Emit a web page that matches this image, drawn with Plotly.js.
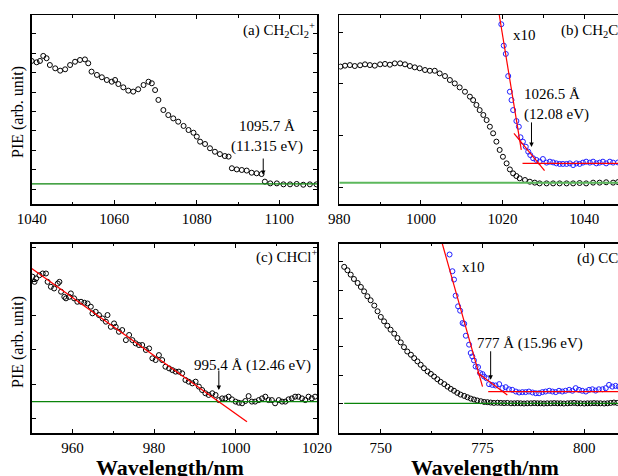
<!DOCTYPE html>
<html>
<head>
<meta charset="utf-8">
<script src="https://cdn.plot.ly/plotly-3.0.1.min.js"></script>
<style>html,body{margin:0;padding:0;background:#fff;}#chart{width:618px;height:476px;}</style>
</head>
<body>
<div id="chart"></div>
<script>
// ---------- Panel (a) CH2Cl2+ ----------
const aWave = [1040.0,1041.2,1042.0,1042.8,1043.6,1044.4,1045.7,1046.9,1048.1,1049.3,1050.5,1051.7,1052.9,1053.7,1054.5,1055.8,1057.0,1058.2,1059.4,1060.2,1061.0,1062.2,1063.4,1064.6,1065.8,1067.1,1068.3,1069.1,1069.9,1070.7,1071.9,1073.1,1074.3,1075.5,1076.8,1078.0,1079.2,1080.0,1080.8,1082.0,1083.2,1084.4,1085.6,1086.8,1087.7,1088.5,1089.7,1090.9,1092.1,1093.3,1094.5,1095.7,1096.5,1097.8,1099.4,1101.0,1102.6,1104.2,1105.8,1107.4,1109.0];
const aPIE = [6.60,6.53,6.60,6.86,6.74,6.39,6.22,6.10,6.17,6.39,6.56,6.65,6.68,6.48,6.05,5.88,5.76,5.62,5.53,5.62,5.41,5.24,5.07,5.02,5.14,5.36,5.53,5.45,5.10,4.59,4.07,3.81,3.64,3.47,3.25,3.04,2.90,2.70,2.44,2.32,2.10,1.92,1.80,1.70,1.67,1.07,1.01,0.98,0.95,0.84,0.81,0.77,0.38,0.29,0.29,0.24,0.24,0.26,0.22,0.24,0.24];
const aBaseX = [1040, 1109.2];
const aBaseY = [0.26, 0.26];

// ---------- Panel (b) CH2Cl+ ----------
const bWave = [980.3,981.4,982.6,983.8,985.1,986.3,987.5,988.7,990.0,991.2,992.4,993.6,994.9,996.1,997.3,998.5,999.7,1001.0,1002.2,1003.4,1004.6,1005.9,1007.1,1008.3,1009.5,1010.8,1012.0,1012.8,1013.6,1014.4,1015.3,1016.1,1016.9,1017.7,1018.5,1019.3,1020.1,1021.0,1021.8,1022.6,1023.4,1024.2,1025.5,1026.7,1027.9,1029.1,1030.8,1032.4,1034.0,1035.7,1037.3,1038.9,1040.5,1042.2,1043.8,1045.4,1047.1,1048.3];
const bPIE = [7.27,7.32,7.35,7.30,7.34,7.39,7.35,7.32,7.39,7.41,7.37,7.44,7.44,7.39,7.30,7.23,7.18,7.09,7.05,7.05,6.91,6.77,6.56,6.38,6.17,5.94,5.68,5.50,5.24,4.97,4.71,4.44,4.09,3.74,3.30,2.86,2.50,2.15,1.83,1.62,1.48,1.36,1.27,1.18,1.13,1.09,1.09,1.09,1.09,1.09,1.09,1.11,1.09,1.13,1.13,1.15,1.13,1.16];
const bWaveX10 = [1019.7,1020.3,1020.8,1021.4,1021.8,1022.2,1022.6,1023.4,1024.0,1024.4,1025.0,1025.7,1026.3,1026.8,1027.5,1028.3,1029.1,1029.9,1030.8,1031.6,1032.4,1033.2,1034.0,1034.8,1035.7,1036.5,1037.3,1038.1,1038.9,1039.7,1040.5,1041.4,1042.2,1043.0,1043.8,1044.6,1045.4,1046.3,1047.1,1048.3];
const bPIEx10 = [9.51,8.38,7.94,6.77,5.94,5.50,4.97,4.39,4.09,3.53,3.30,3.03,2.77,2.59,2.42,2.33,2.24,2.38,2.19,2.24,2.20,2.15,2.12,2.12,2.12,2.15,2.06,2.15,2.12,2.19,2.24,2.19,2.24,2.15,2.19,2.24,2.15,2.24,2.19,2.20];
const bBaseX = [980, 1049];
const bBaseY = [1.13, 1.13];
const bFit1X = [1019.2, 1024.6], bFit1Y = [10.0, 2.86];
const bFit2X = [1022.8, 1030.3], bFit2Y = [3.74, 1.76];
const bFit3X = [1024.9, 1049], bFit3Y = [2.15, 2.15];

// ---------- Panel (c) CHCl+ ----------
const cWave = [950.2,950.7,951.1,951.9,952.7,953.5,953.9,954.7,955.5,956.4,956.8,957.2,958.0,958.4,959.2,959.6,960.4,961.2,962.1,962.9,963.7,964.5,964.9,965.7,966.5,967.4,968.2,968.6,969.4,970.2,970.6,971.4,972.2,973.1,973.9,974.7,975.5,976.3,977.1,978.0,978.8,979.6,980.4,981.2,982.0,982.8,983.7,984.5,985.3,986.1,986.9,987.7,988.5,989.4,990.2,991.0,991.8,992.6,993.4,994.3,995.1,995.9,996.7,997.5,998.3,999.1,1000.0,1000.8,1001.6,1002.4,1003.2,1004.0,1004.8,1005.7,1006.5,1007.3,1008.1,1008.9,1009.7,1010.6,1011.4,1012.2,1013.0,1013.8,1014.6,1015.4,1016.3,1017.1,1017.9,1018.7,1019.5];
const cPIE = [8.25,7.98,8.16,8.33,8.42,8.42,7.98,7.72,7.63,7.89,7.98,7.46,7.19,7.11,7.19,7.37,7.11,6.93,6.93,6.88,6.84,6.67,6.32,6.40,6.23,6.05,5.88,6.23,5.61,5.79,5.61,5.35,5.44,4.91,5.18,4.91,4.74,4.65,4.65,4.39,4.47,3.95,3.86,4.12,3.86,3.51,3.42,3.33,3.25,3.25,3.16,2.81,2.72,2.63,2.72,2.46,2.28,2.11,2.02,2.11,2.02,1.75,1.84,1.84,1.93,1.79,1.67,1.61,1.58,1.70,1.96,1.67,1.67,1.75,1.84,1.93,1.75,1.75,1.58,1.75,1.67,1.67,1.79,1.84,1.93,1.93,1.84,1.75,1.93,1.84,1.93];
const cBaseX = [950, 1020];
const cBaseY = [1.67, 1.67];
const cFitX = [950.0, 1002.8], cFitY = [8.68, 0.61];

// ---------- Panel (d) CCl+ ----------
const dWave = [741.0,741.8,742.6,743.4,744.3,745.1,745.9,746.7,747.5,748.4,749.2,750.0,750.8,751.6,752.4,753.3,754.1,754.9,755.7,756.5,757.4,758.2,759.0,759.8,760.6,761.5,762.3,763.1,763.9,764.7,765.6,766.4,767.2,768.0,768.8,769.6,770.5,771.3,772.1,772.9,773.7,774.6,775.4,776.2,777.0,777.8,778.7,779.5,780.3,781.1,782.0,782.8,783.6,784.4,785.2,786.0,786.9,787.7,788.5,789.3,790.1,790.9,791.8,792.6,793.4,794.2,795.0,795.9,796.7,797.5,798.3,799.1,800.0,800.8,801.6,802.4,803.2,804.0,804.9,805.7,806.5,807.3,808.1];
const dPIE = [8.77,8.59,8.36,8.13,7.92,7.71,7.48,7.22,7.01,6.73,6.43,6.13,5.90,5.67,5.46,5.25,5.02,4.79,4.54,4.31,4.14,3.96,3.79,3.61,3.43,3.26,3.13,2.99,2.85,2.71,2.59,2.46,2.34,2.24,2.13,2.04,1.97,1.90,1.83,1.78,1.73,1.69,1.65,1.64,1.62,1.60,1.61,1.60,1.59,1.60,1.58,1.58,1.59,1.58,1.57,1.58,1.58,1.59,1.58,1.58,1.57,1.58,1.58,1.59,1.58,1.58,1.57,1.58,1.59,1.60,1.58,1.58,1.57,1.58,1.58,1.59,1.58,1.58,1.57,1.58,1.60,1.62,1.60];
const dWaveX10 = [766.9,767.6,768.0,768.4,769.0,769.5,770.1,770.5,770.9,771.7,772.1,772.5,772.9,773.3,773.9,774.4,775.0,775.4,776.0,776.6,777.4,778.2,779.1,779.9,780.7,781.5,782.3,783.2,784.0,784.8,785.6,786.4,787.3,788.1,788.9,789.7,790.5,791.4,792.2,793.0,793.8,794.6,795.4,796.3,797.1,797.9,798.7,799.5,800.4,801.2,802.0,802.8,803.6,804.5,805.3,806.1,806.9,807.7,808.5];
const dPIEx10 = [9.42,8.54,8.10,7.25,6.69,6.46,5.81,5.77,5.14,4.67,4.23,4.05,3.84,3.52,3.49,3.17,3.12,2.99,2.90,2.59,2.55,2.52,2.59,2.38,2.43,2.32,2.29,2.20,2.15,2.17,2.17,2.20,2.15,2.11,2.11,2.17,2.20,2.24,2.20,2.17,2.24,2.20,2.24,2.29,2.24,2.38,2.29,2.24,2.20,2.29,2.32,2.25,2.32,2.32,2.38,2.55,2.46,2.50,2.46];
const dBaseX = [741, 809];
const dBaseY = [1.58, 1.58];
const dFit1X = [765.1, 775.0], dFit1Y = [10.0, 2.46];
const dFit2X = [773.7, 781.1], dFit2Y = [3.20, 2.02];
const dFit3X = [776.4, 809], dFit3Y = [2.20, 2.20];

// ---------- build ----------
const W = 618, H = 476;
const FONT = "'Liberation Serif', 'Times New Roman', Times, serif";
const px = x => x / W;
const py = y => 1 - y / H;

function pts(x, y, xa, ya, color) {
  return {x: x, y: y, xaxis: xa, yaxis: ya, type: 'scatter', mode: 'markers',
    marker: {symbol: 'circle-open', size: 5, color: color, line: {width: 1, color: color}},
    hoverinfo: 'skip', cliponaxis: true};
}
function line(x, y, xa, ya, color, w) {
  return {x: x, y: y, xaxis: xa, yaxis: ya, type: 'scatter', mode: 'lines',
    line: {color: color, width: w}, hoverinfo: 'skip'};
}

const data = [
  pts(aWave, aPIE, 'x', 'y', 'black'),
  line(aBaseX, aBaseY, 'x', 'y', '#0a840a', 1.3),
  pts(bWave, bPIE, 'x2', 'y2', 'black'),
  line(bBaseX, bBaseY, 'x2', 'y2', '#5cb85c', 2),
  pts(bWaveX10, bPIEx10, 'x2', 'y2', '#1f1fff'),
  line(bFit1X, bFit1Y, 'x2', 'y2', '#ff0000', 1.2),
  line(bFit2X, bFit2Y, 'x2', 'y2', '#ff0000', 1.2),
  line(bFit3X, bFit3Y, 'x2', 'y2', '#ff0000', 1.2),
  pts(cWave, cPIE, 'x3', 'y3', 'black'),
  line(cBaseX, cBaseY, 'x3', 'y3', '#0a840a', 1.3),
  line(cFitX, cFitY, 'x3', 'y3', '#ff0000', 1.3),
  pts(dWave, dPIE, 'x4', 'y4', 'black'),
  line(dBaseX, dBaseY, 'x4', 'y4', '#0a840a', 1.3),
  pts(dWaveX10, dPIEx10, 'x4', 'y4', '#1f1fff'),
  line(dFit1X, dFit1Y, 'x4', 'y4', '#ff0000', 1.2),
  line(dFit2X, dFit2Y, 'x4', 'y4', '#ff0000', 1.2),
  line(dFit3X, dFit3Y, 'x4', 'y4', '#ff0000', 1.2)
];

function xax(dom, range, anchor, dtick, minor, tick0) {
  return {domain: dom, range: range, anchor: anchor, showline: true, linecolor: 'black', linewidth: 1.5,
    mirror: 'ticks', ticks: 'inside', ticklen: 4, tickwidth: 1, tickcolor: 'black', dtick: dtick, tick0: tick0,
    minor: {dtick: minor, tick0: tick0, ticks: 'inside', ticklen: 2.5, tickwidth: 1, tickcolor: 'black'},
    showgrid: false, zeroline: false, tickfont: {family: FONT, size: 15, color: 'black'}, fixedrange: true};
}
function yax(dom, range, anchor, tick0, dtick, mirror) {
  return {domain: dom, range: range, anchor: anchor, showline: true, linecolor: 'black', linewidth: 1.5,
    mirror: mirror, ticks: 'inside', ticklen: 4, tickwidth: 1, tickcolor: 'black', tick0: tick0, dtick: dtick,
    showticklabels: false, showgrid: false, zeroline: false, fixedrange: true};
}

const topDom = [py(204), py(15)];
const botDom = [py(433.3), py(243.5)];
const leftDom = [px(31.7), px(317.3)];
const rightDom = [px(339.3), 1];

const txt = (s, x, y, o) => Object.assign({text: s, xref: 'paper', yref: 'paper', x: px(x), y: py(y),
  showarrow: false, xanchor: 'center', yanchor: 'middle', font: {family: FONT, size: 15, color: 'black'}}, o || {});
const arrow = (xa, ya, x, y, len) => ({xref: xa, yref: ya, x: x, y: y, ax: 0, ay: -len, text: '',
  showarrow: true, arrowhead: 2, arrowsize: 0.9, arrowwidth: 1, arrowcolor: 'black'});

const annotations = [
  txt('(a) CH<sub>2</sub>Cl<sub>2</sub><sup>+</sup>', 317, 30, {xanchor: 'right'}),
  txt('(b) CH<sub>2</sub>Cl<sup>+</sup>', 559, 30, {xanchor: 'left'}),
  txt('(c) CHCl<sup>+</sup>', 319, 256, {xanchor: 'right'}),
  txt('(d) CCl<sup>+</sup>', 575, 257, {xanchor: 'left'}),
  txt('1095.7 Å<br>(11.315 eV)', 267, 136),
  arrow('x', 'y', 1096.1, 0.72, 18),
  txt('1026.5 Å<br>(12.08 eV)', 522, 104, {xanchor: 'left', align: 'left'}),
  arrow('x2', 'y2', 1027.1, 3.02, 26),
  txt('x10', 511, 35, {xanchor: 'left'}),
  txt('995.4 Å (12.46 eV)', 252.5, 365),
  arrow('x3', 'y3', 995.9, 2.28, 21),
  txt('777 Å (15.96 eV)', 530, 343),
  arrow('x4', 'y4', 777.0, 2.82, 30),
  txt('x10', 473, 267),
  txt('PIE (arb. unit)', 18, 112, {textangle: -90, font: {family: FONT, size: 16, color: 'black'}}),
  txt('PIE (arb. unit)', 18, 342, {textangle: -90, font: {family: FONT, size: 16, color: 'black'}}),
  txt('<b>Wavelength/nm</b>', 170, 467, {font: {family: FONT, size: 22, color: 'black'}}),
  txt('<b>Wavelength/nm</b>', 485, 467, {font: {family: FONT, size: 22, color: 'black'}})
];

const layout = {
  width: W, height: H, margin: {l: 0, r: 0, t: 0, b: 0}, showlegend: false,
  paper_bgcolor: 'white', plot_bgcolor: 'white',
  font: {family: FONT, color: 'black'},
  xaxis: xax(leftDom, [1040, 1109.2], 'y', 20, 10, 1040),
  yaxis: yax(topDom, [-0.773, 8.969], 'x', 0, 1, 'ticks'),
  xaxis2: xax(rightDom, [980, 1048.3], 'y2', 20, 10, 980),
  yaxis2: yax(topDom, [0, 10], 'x2', 0.85, 2.75, false),
  xaxis3: xax(leftDom, [950, 1020.05], 'y3', 20, 10, 960),
  yaxis3: yax(botDom, [0, 10], 'x3', 0.79, 1.8, 'ticks'),
  xaxis4: xax(rightDom, [739.8, 808.3], 'y4', 25, 12.5, 750),
  yaxis4: yax(botDom, [0, 10], 'x4', 1.55, 1.5, false),
  annotations: annotations
};

Plotly.newPlot('chart', data, layout, {displayModeBar: false, staticPlot: true});
</script>
</body>
</html>
